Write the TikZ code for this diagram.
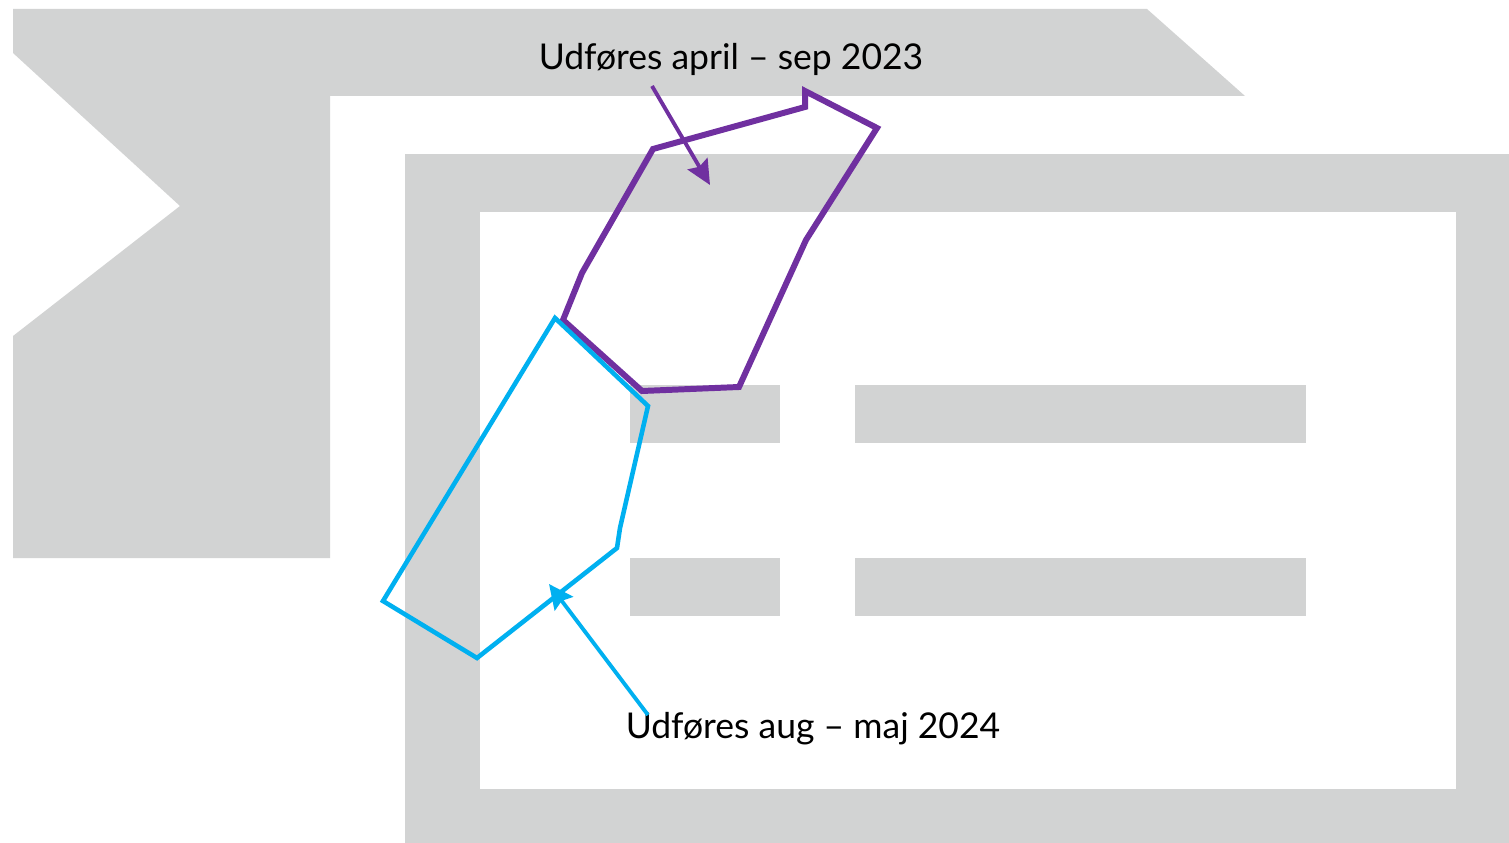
\documentclass[tikz,border=0pt]{standalone}
\usepackage{fontspec}
\setmainfont{Lato}
\usepackage{xcolor}
\usepackage{tikz}
\usetikzlibrary{positioning,arrows.meta}
\definecolor{lightgray}{HTML}{D2D3D3}
\definecolor{phasepurple}{HTML}{7030A0}
\definecolor{phasecyan}{HTML}{00B0F0}
\tikzset{
  label/.style={inner sep=0pt, font=\fontsize{10.1pt}{12pt}\selectfont},
  pointer/.style={-{Stealth[length=7pt,width=6.5pt,inset=1pt]}, line width=1.1pt}
}

\begin{document}
\begin{tikzpicture}[x=0.01cm,y=-0.01cm]
\useasboundingbox (0,0) rectangle (1509,843);
% background shapes
\fill[lightgray] (13,9) -- (1147,9) -- (1245,96) -- (330,96) -- (330,558) -- (13,558) -- (13,336) -- (180,206) -- (13,53) -- cycle;
\fill[lightgray] (405,154) rectangle (1509,843);
\fill[white] (480,212) rectangle (1456,789);
\fill[lightgray] (630,385) rectangle (780,443);
\fill[lightgray] (855,385) rectangle (1306,443);
\fill[lightgray] (630,558) rectangle (780,616);
\fill[lightgray] (855,558) rectangle (1306,616);
% areas
\draw[phasepurple, line width=1.7pt, line join=miter] (653,149) -- (805,107) -- (805,91) -- (877,128) -- (806,240) -- (739,387) -- (642,391) -- (563,320) -- (582,273) -- cycle;
\draw[phasecyan, line width=1.3pt, line join=miter] (555,318) -- (648,406) -- (620,528) -- (617,548) -- (477,658) -- (383,601) -- cycle;
% labels
\node[label] (first) at (731,59) {Udføres april – sep 2023};
\node[label] (second) at (813,729) {Udføres aug – maj 2024};
\coordinate (firststart) at (652,86);
\coordinate (firstend) at (710,185);
\coordinate (secondstart) at (648,715);
\coordinate (secondend) at (549,584);
\draw[pointer, phasepurple] (firststart) -- (firstend);
\draw[pointer, phasecyan] (secondstart) -- (secondend);
\end{tikzpicture}
\end{document}
